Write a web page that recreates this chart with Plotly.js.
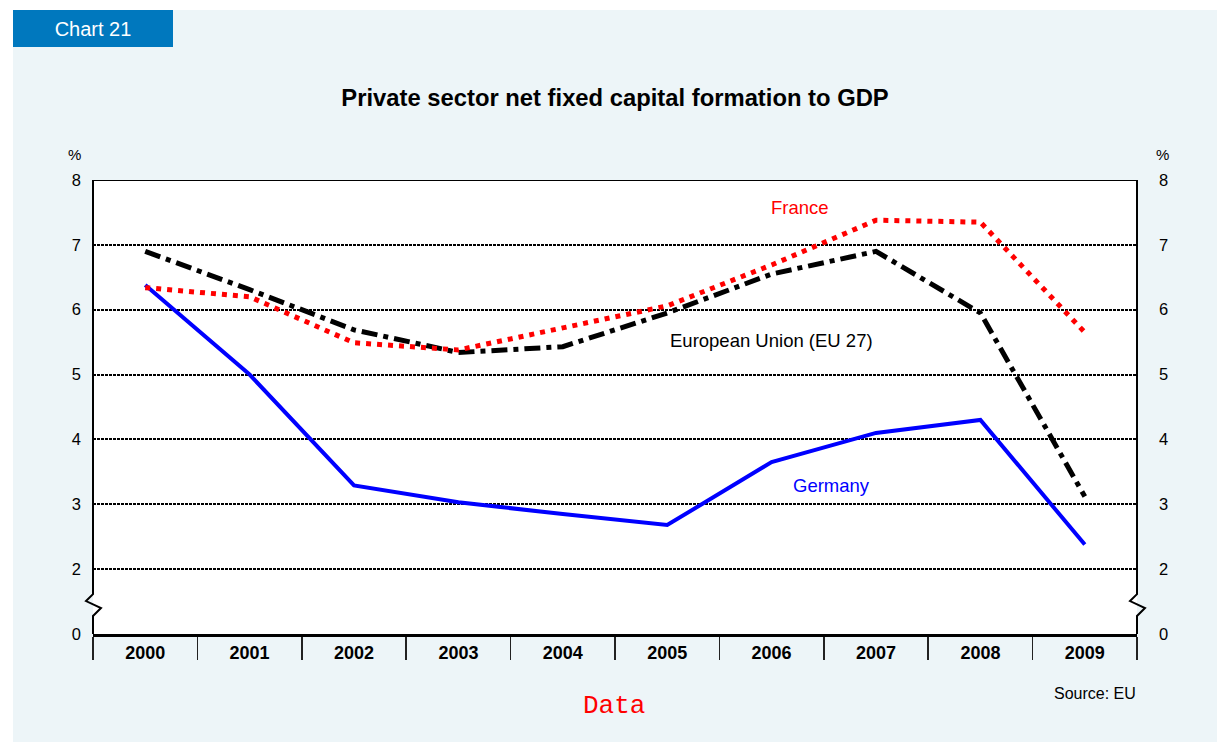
<!DOCTYPE html>
<html>
<head>
<meta charset="utf-8">
<script src="https://cdn.plot.ly/plotly-3.0.1.min.js"></script>
<style>
  html, body { margin: 0; padding: 0; background: #ffffff; }
  #bg { position: absolute; left: 13px; top: 10px; width: 1204px; height: 732px; background: #edf5f8; }
  #chart { position: absolute; left: 0; top: 0; width: 1217px; height: 742px; }
</style>
</head>
<body>
<div id="bg"></div>
<div id="chart"></div>
<script>
// ---- data ----
const years = ["2000","2001","2002","2003","2004","2005","2006","2007","2008","2009"];
const euValues      = [6.90, 6.31, 5.69, 5.34, 5.43, 5.95, 6.55, 6.90, 5.95, 3.12];
const franceValues  = [6.34, 6.20, 5.49, 5.38, 5.72, 6.06, 6.69, 7.38, 7.35, 5.65];
const germanyValues = [6.38, 5.00, 3.29, 3.03, 2.85, 2.68, 3.65, 4.10, 4.30, 2.38];
// y axis is broken: position 1 carries the label "0"
const yTickVals  = [1, 2, 3, 4, 5, 6, 7, 8];
const yTickText  = ["0", "2", "3", "4", "5", "6", "7", "8"];

const font = "Arial, 'Liberation Sans', sans-serif";

const traces = [
  { x: years, y: germanyValues, type: "scatter", mode: "lines", name: "Germany",
    line: { color: "#0000ff", width: 4 }, hoverinfo: "skip" },
  { x: years, y: euValues, type: "scatter", mode: "lines", name: "European Union (EU 27)",
    line: { color: "#000000", width: 5, dash: "16px,6px,5px,6px" }, hoverinfo: "skip" },
  { x: years, y: franceValues, type: "scatter", mode: "lines", name: "France",
    line: { color: "#ff0000", width: 5, dash: "5px,6px" }, hoverinfo: "skip" },
  { x: years, y: euValues, type: "scatter", mode: "lines", yaxis: "y2", showlegend: false,
    opacity: 0, hoverinfo: "skip", line: { width: 0 } }
];

// broken-axis frame sides (pixel offsets in x, axis units in y)
const breakPath = "M0,8 L0,1.615 L-7,1.508 L8,1.4 L0,1.277 L0,1";

const layout = {
  width: 1217, height: 742,
  margin: { l: 93, r: 80, t: 180, b: 108, pad: 0 },
  paper_bgcolor: "rgba(0,0,0,0)",
  plot_bgcolor: "#ffffff",
  showlegend: false,
  title: {
    text: "<b>Private sector net fixed capital formation to GDP</b>",
    font: { family: font, size: 23.8, color: "#000000" },
    xref: "paper", x: 0.5, xanchor: "center",
    yref: "container", y: 1 - 98 / 742, yanchor: "middle"
  },
  xaxis: {
    type: "category", range: [-0.5, 9.5], fixedrange: true,
    showline: true, linecolor: "#000000", linewidth: 3, mirror: false,
    showgrid: false, zeroline: false,
    ticks: "outside", tickson: "boundaries", ticklen: 23, tickwidth: 1.5, tickcolor: "#222222",
    ticklabelstandoff: 0,
    tickfont: { family: font, size: 18, color: "#000000", weight: "bold" }
  },
  yaxis: {
    range: [1, 8], fixedrange: true,
    tickvals: yTickVals, ticktext: yTickText,
    showline: false, zeroline: false,
    showgrid: true, gridcolor: "#000000", gridwidth: 2, griddash: "2.7px,1.3px",
    ticks: "", ticklabelstandoff: 11,
    tickfont: { family: font, size: 16.5, color: "#000000" }
  },
  yaxis2: {
    range: [1, 8], fixedrange: true, overlaying: "y", side: "right",
    tickvals: yTickVals, ticktext: yTickText,
    showline: false, zeroline: false, showgrid: false,
    ticks: "", ticklabelstandoff: 21,
    tickfont: { family: font, size: 16.5, color: "#000000" }
  },
  shapes: [
    { type: "line", xref: "paper", yref: "y", x0: 0, x1: 1, y0: 8, y1: 8,
      line: { color: "#000000", width: 2 } },
    { type: "path", xref: "paper", yref: "y", xsizemode: "pixel", xanchor: 0,
      path: breakPath, line: { color: "#000000", width: 2 } },
    { type: "path", xref: "paper", yref: "y", xsizemode: "pixel", xanchor: 1,
      path: breakPath, line: { color: "#000000", width: 2 } }
  ],
  annotations: [
    { text: "Chart 21", xref: "paper", yref: "paper",
      x: (13 - 93) / 1044, y: (634 - 10) / 454, xanchor: "left", yanchor: "top",
      width: 160, height: 37, bgcolor: "#0078be", borderpad: 0, borderwidth: 0,
      showarrow: false, align: "center",
      font: { family: font, size: 20, color: "#ffffff" } },
    { text: "France", xref: "x", yref: "y", x: 6.27, y: 7.57, showarrow: false,
      xanchor: "center", yanchor: "middle",
      font: { family: font, size: 18.5, color: "#ff0000" } },
    { text: "European Union (EU 27)", xref: "x", yref: "y", x: 6.0, y: 5.52, showarrow: false,
      xanchor: "center", yanchor: "middle",
      font: { family: font, size: 18.5, color: "#000000" } },
    { text: "Germany", xref: "x", yref: "y", x: 6.575, y: 3.29, showarrow: false,
      xanchor: "center", yanchor: "middle",
      font: { family: font, size: 18.5, color: "#0000ff" } },
    { text: "%", xref: "paper", yref: "paper", x: (74 - 93) / 1044, y: (634 - 154) / 454,
      xanchor: "center", yanchor: "middle",
      showarrow: false, font: { family: font, size: 15, color: "#000000" } },
    { text: "%", xref: "paper", yref: "paper", x: (1162 - 93) / 1044, y: (634 - 154) / 454,
      xanchor: "center", yanchor: "middle",
      showarrow: false, font: { family: font, size: 15, color: "#000000" } },
    { text: "Source: EU", xref: "paper", yref: "paper", x: (1138 - 93) / 1044, y: (634 - 693) / 454,
      xanchor: "right", yanchor: "middle",
      showarrow: false, font: { family: font, size: 16, color: "#000000" } },
    { text: "Data", xref: "paper", yref: "paper", x: (614 - 93) / 1044, y: (634 - 706) / 454,
      xanchor: "center", yanchor: "middle",
      showarrow: false, font: { family: "'Courier New', 'Liberation Mono', monospace", size: 26, color: "#ff0000" } }
  ]
};

Plotly.newPlot("chart", traces, layout, { staticPlot: true, displayModeBar: false });
</script>
</body>
</html>
